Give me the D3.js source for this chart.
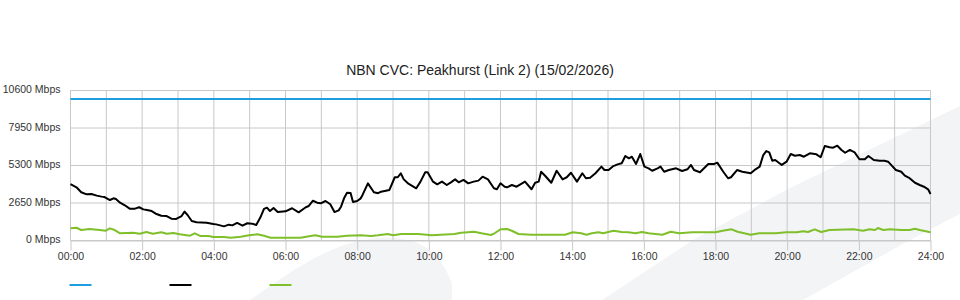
<!DOCTYPE html>
<html>
<head>
<meta charset="utf-8">
<script src="https://cdn.jsdelivr.net/npm/d3@7"></script>
<style>
  html, body { margin: 0; padding: 0; background: #ffffff; }
  svg { display: block; font-family: "Liberation Sans", Arial, Helvetica, sans-serif; }
</style>
</head>
<body>
<svg id="chart" width="960" height="300"></svg>
<script>
// ---------------- DATA ----------------
const chartTitle = "NBN CVC: Peakhurst (Link 2) (15/02/2026)";
const yTickValues = [0, 2650, 5300, 7950, 10600];
const xTickHours = [0, 2, 4, 6, 8, 10, 12, 14, 16, 18, 20, 22, 24];
const xTickLabels = ["00:00","02:00","04:00","06:00","08:00","10:00","12:00","14:00","16:00","18:00","20:00","22:00","24:00"];
const seriesNames = ["Capacity", "Download", "Upload"];

// capacity (blue) - minutes since midnight / Mbps
const capacityTimes = [0, 1440];
const capacityValues = [10000, 10000];

// download (black) - minutes since midnight / Mbps
const downloadTimes = [0,10,18,27,35,44,52,57,66,72,76,83,91,99,108,115,122,128,136,144,152,161,169,177,186,191,196,203,211,228,239,244,257,265,271,279,288,296,304,311,318,324,329,334,340,347,360,371,382,394,399,406,413,419,427,435,442,449,453,458,463,469,473,480,486,489,498,508,515,520,534,543,548,553,558,565,579,586,594,598,607,614,622,630,637,644,650,658,666,675,683,690,699,709,714,720,727,731,739,747,761,772,778,784,788,795,805,814,824,831,838,848,857,863,870,879,889,894,901,909,916,923,929,935,940,947,954,961,968,974,983,988,994,1002,1014,1024,1033,1039,1044,1054,1068,1078,1083,1093,1101,1106,1116,1125,1139,1147,1154,1160,1165,1170,1175,1180,1191,1199,1206,1213,1221,1228,1238,1249,1256,1263,1271,1277,1284,1291,1297,1305,1313,1321,1330,1336,1345,1355,1363,1369,1376,1382,1391,1397,1405,1414,1422,1429,1436,1440];
const downloadValues = [3990,3760,3410,3260,3290,3170,3100,3070,2860,2980,2930,2670,2490,2250,2250,2350,2200,2160,2080,1870,1750,1730,1540,1520,1730,2040,1800,1380,1290,1260,1170,1140,1000,1120,1070,1240,1050,1220,1190,1100,1640,2230,2320,2080,2300,2010,2060,2280,1990,2350,2440,2810,2670,2630,2790,2560,2010,2130,2390,2980,3380,3360,2720,2790,2980,3220,4040,3410,3340,3450,3570,4470,4470,4750,4320,4040,3690,4160,4820,4820,4160,3970,4160,3920,4110,4320,4110,4280,4040,4160,4230,4510,4320,3690,3620,4040,3800,3760,3920,3800,4160,3620,4080,4160,4860,4560,4080,4930,4320,4470,4790,4160,4750,4400,4440,4750,5220,4980,4980,5260,5380,5460,5970,5810,5920,5410,6110,5220,5100,4930,5100,5220,4860,4980,5100,4910,5030,5340,4980,4820,5410,5410,5500,4860,4400,4470,4980,4860,4750,5030,5220,6040,6320,6230,5640,5690,5340,5570,6110,5990,6040,5920,6160,6090,5880,6680,6590,6560,6700,6400,6200,6400,6230,5740,5740,5970,5690,5640,5640,5570,5260,4980,4860,4580,4400,4080,3920,3800,3620,3290];

// upload (green) - minutes since midnight / Mbps
const uploadTimes = [0,10,18,32,49,59,66,74,83,105,116,127,138,152,161,172,183,200,208,217,231,239,257,268,285,299,313,324,335,357,385,402,410,421,447,463,486,503,515,531,540,554,582,596,604,620,643,654,676,688,704,710,720,731,739,750,772,828,841,855,864,873,884,892,909,923,934,946,957,968,991,1005,1019,1041,1080,1092,1107,1117,1139,1153,1181,1198,1216,1227,1235,1246,1257,1271,1311,1327,1338,1347,1352,1361,1372,1391,1405,1414,1422,1440];
const uploadValues = [860,900,740,810,740,690,860,740,510,550,480,600,480,580,480,530,440,340,510,320,320,250,250,200,270,370,440,340,200,200,200,320,370,270,270,340,370,320,370,460,370,460,460,410,370,410,460,550,620,510,390,510,790,810,690,460,410,410,580,510,410,510,580,510,690,600,580,510,600,510,410,620,510,580,580,690,790,620,410,510,510,580,580,650,600,790,600,740,790,690,790,740,880,740,790,740,740,830,740,580];

// ---------------- DRAWING ----------------
const svg = d3.select("#chart");
const W = 960, H = 300;
const plot = { left: 70.5, right: 930.5, top: 90.5, bottom: 240.5 };

const x = d3.scaleLinear().domain([0, 1440]).range([plot.left, plot.right]);
const y = d3.scaleLinear().domain([0, 10600]).range([plot.bottom, plot.top]);

// background watermark shapes (decorative)
const wm = svg.append("g").attr("fill", "#f3f4f6");
wm.append("path").attr("d", "M250,300 C290,272 330,242 378,238 C418,235 440,250 452,284 L452,300 Z");
wm.append("path").attr("d", "M602,300 L693,240 L792,187 L960,106 L960,214 L910,240 L803,300 Z");

// gridlines
const grid = svg.append("g").attr("stroke", "#c8c8c8").attr("stroke-width", 1).attr("fill", "none");
grid.selectAll("line.h").data(yTickValues).join("line")
  .attr("class", "h")
  .attr("x1", plot.left).attr("x2", plot.right)
  .attr("y1", d => y(d)).attr("y2", d => y(d));
grid.selectAll("line.v").data(d3.range(0, 25)).join("line")
  .attr("class", "v")
  .attr("y1", plot.top).attr("y2", plot.bottom)
  .attr("x1", d => x(d * 60)).attr("x2", d => x(d * 60));

// x axis
const xAxis = d3.axisBottom(x)
  .tickValues(xTickHours.map(h => h * 60))
  .tickFormat((d, i) => xTickLabels[i])
  .tickSize(10)
  .tickSizeOuter(0)
  .tickPadding(2);
const gx = svg.append("g").attr("transform", `translate(0,${plot.bottom})`).call(xAxis);
gx.select(".domain").attr("stroke", "#c8c8c8");
gx.selectAll(".tick line").attr("stroke", "#c8c8c8");
gx.selectAll(".tick text").attr("fill", "#333").style("font-size", "10.5px")
  .style("font-family", "'Liberation Sans', Arial, sans-serif");

// y axis
const yAxis = d3.axisLeft(y)
  .tickValues(yTickValues)
  .tickFormat(d => d + " Mbps")
  .tickSize(0)
  .tickPadding(10);
const gy = svg.append("g").attr("transform", `translate(${plot.left},0)`).call(yAxis);
gy.select(".domain").remove();
gy.selectAll(".tick text").attr("fill", "#333").attr("dy", "0.2em").style("font-size", "10.5px")
  .style("font-family", "'Liberation Sans', Arial, sans-serif");

// series
const colors = ["#1d9ee0", "#000000", "#7fbf2a"];
const series = [
  { name: seriesNames[0], t: capacityTimes, v: capacityValues, color: colors[0] },
  { name: seriesNames[2], t: uploadTimes, v: uploadValues, color: colors[2] },
  { name: seriesNames[1], t: downloadTimes, v: downloadValues, color: colors[1] }
];
const line = d3.line().x(d => x(d[0])).y(d => y(d[1]));
series.forEach(s => {
  svg.append("path")
    .datum(s.t.map((t, i) => [t, s.v[i]]))
    .attr("fill", "none")
    .attr("stroke", s.color)
    .attr("stroke-width", 2)
    .attr("stroke-linejoin", "round")
    .attr("d", line);
});

// title
svg.append("text")
  .attr("x", 480).attr("y", 75)
  .attr("text-anchor", "middle")
  .attr("fill", "#222")
  .style("font-size", "14px")
  .text(chartTitle);

// legend swatches (no labels in the reference)
const legend = svg.append("g");
legend.selectAll("line").data(seriesNames).join("line")
  .attr("x1", (d, i) => 69.5 + i * 100)
  .attr("x2", (d, i) => 91.5 + i * 100)
  .attr("y1", 285).attr("y2", 285)
  .attr("stroke", (d, i) => colors[i])
  .attr("stroke-width", 2);
</script>
</body>
</html>
